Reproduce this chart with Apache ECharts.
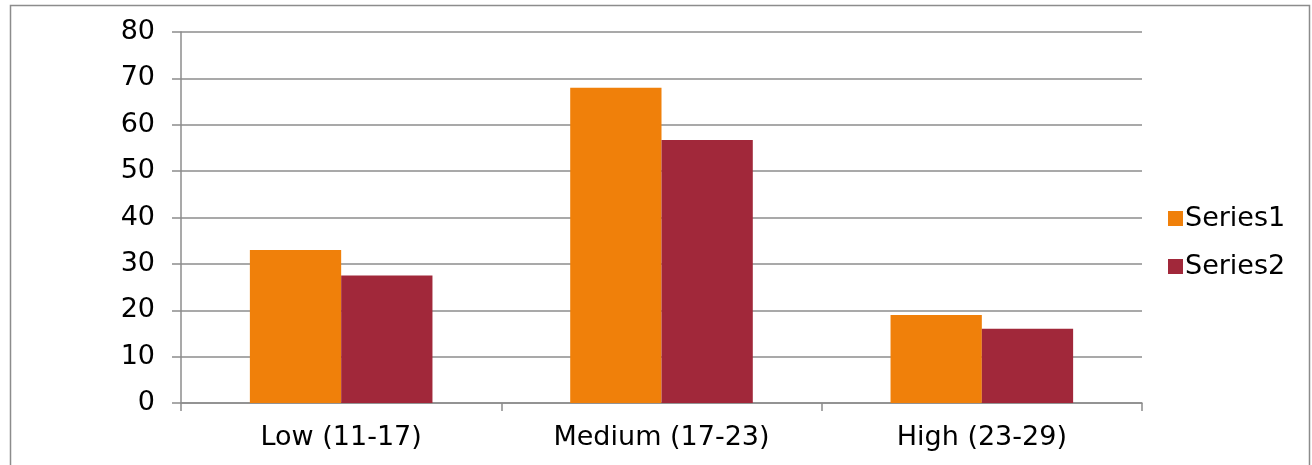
<!DOCTYPE html>
<html>
<head>
<meta charset="utf-8">
<script src="https://cdn.jsdelivr.net/npm/echarts@6/dist/echarts.min.js"></script>
<style>
html,body{margin:0;padding:0;background:#fff;}
#chart{width:1312px;height:465px;}
</style>
</head>
<body>
<div id="chart"></div>
<script>
var categories = ['Low (11-17)', 'Medium (17-23)', 'High (23-29)'];
var series1 = [33, 68, 19];
var series2 = [27.5, 56.7, 16];
var seriesNames = ['Series1', 'Series2'];

var chart = echarts.init(document.getElementById('chart'));
var font = 'DejaVu Sans';
chart.setOption({
  animation: false,
  backgroundColor: '#fff',
  graphic: [{
    type: 'rect',
    shape: {x: 10.5, y: 5.5, width: 1299, height: 470},
    style: {fill: 'none', stroke: '#8c8c8c', lineWidth: 1.5},
    silent: true
  }],
  grid: {left: 181, right: 170, top: 32, bottom: 62},
  legend: {
    orient: 'vertical',
    left: 1163,
    top: 200,
    itemWidth: 15,
    itemHeight: 15,
    itemGap: 21,
    icon: 'rect',
    textStyle: {fontFamily: font, fontSize: 27, color: '#000', padding: [0,0,0,-3]},
    data: seriesNames
  },
  xAxis: {
    type: 'category',
    data: categories,
    axisLine: {lineStyle: {color: '#8c8c8c', width: 1.5}},
    axisTick: {show: true, length: 8, lineStyle: {color: '#8c8c8c', width: 1.5}},
    axisLabel: {fontFamily: font, fontSize: 27, color: '#000', margin: 21}
  },
  yAxis: {
    type: 'value',
    min: 0, max: 80, interval: 10,
    axisLine: {show: true, lineStyle: {color: '#8c8c8c', width: 1.5}},
    axisTick: {show: true, length: 9, lineStyle: {color: '#8c8c8c', width: 1.5}},
    splitLine: {lineStyle: {color: '#8c8c8c', width: 1.5}},
    axisLabel: {fontFamily: font, fontSize: 27, color: '#000', margin: 26}
  },
  series: [{
    name: seriesNames[0], type: 'bar', data: series1,
    itemStyle: {color: '#F0800A'},
    barGap: '0%', barCategoryGap: '43%'
  }, {
    name: seriesNames[1], type: 'bar', data: series2,
    itemStyle: {color: '#A1283A'},
    barGap: '0%', barCategoryGap: '43%'
  }]
});
</script>
</body>
</html>
